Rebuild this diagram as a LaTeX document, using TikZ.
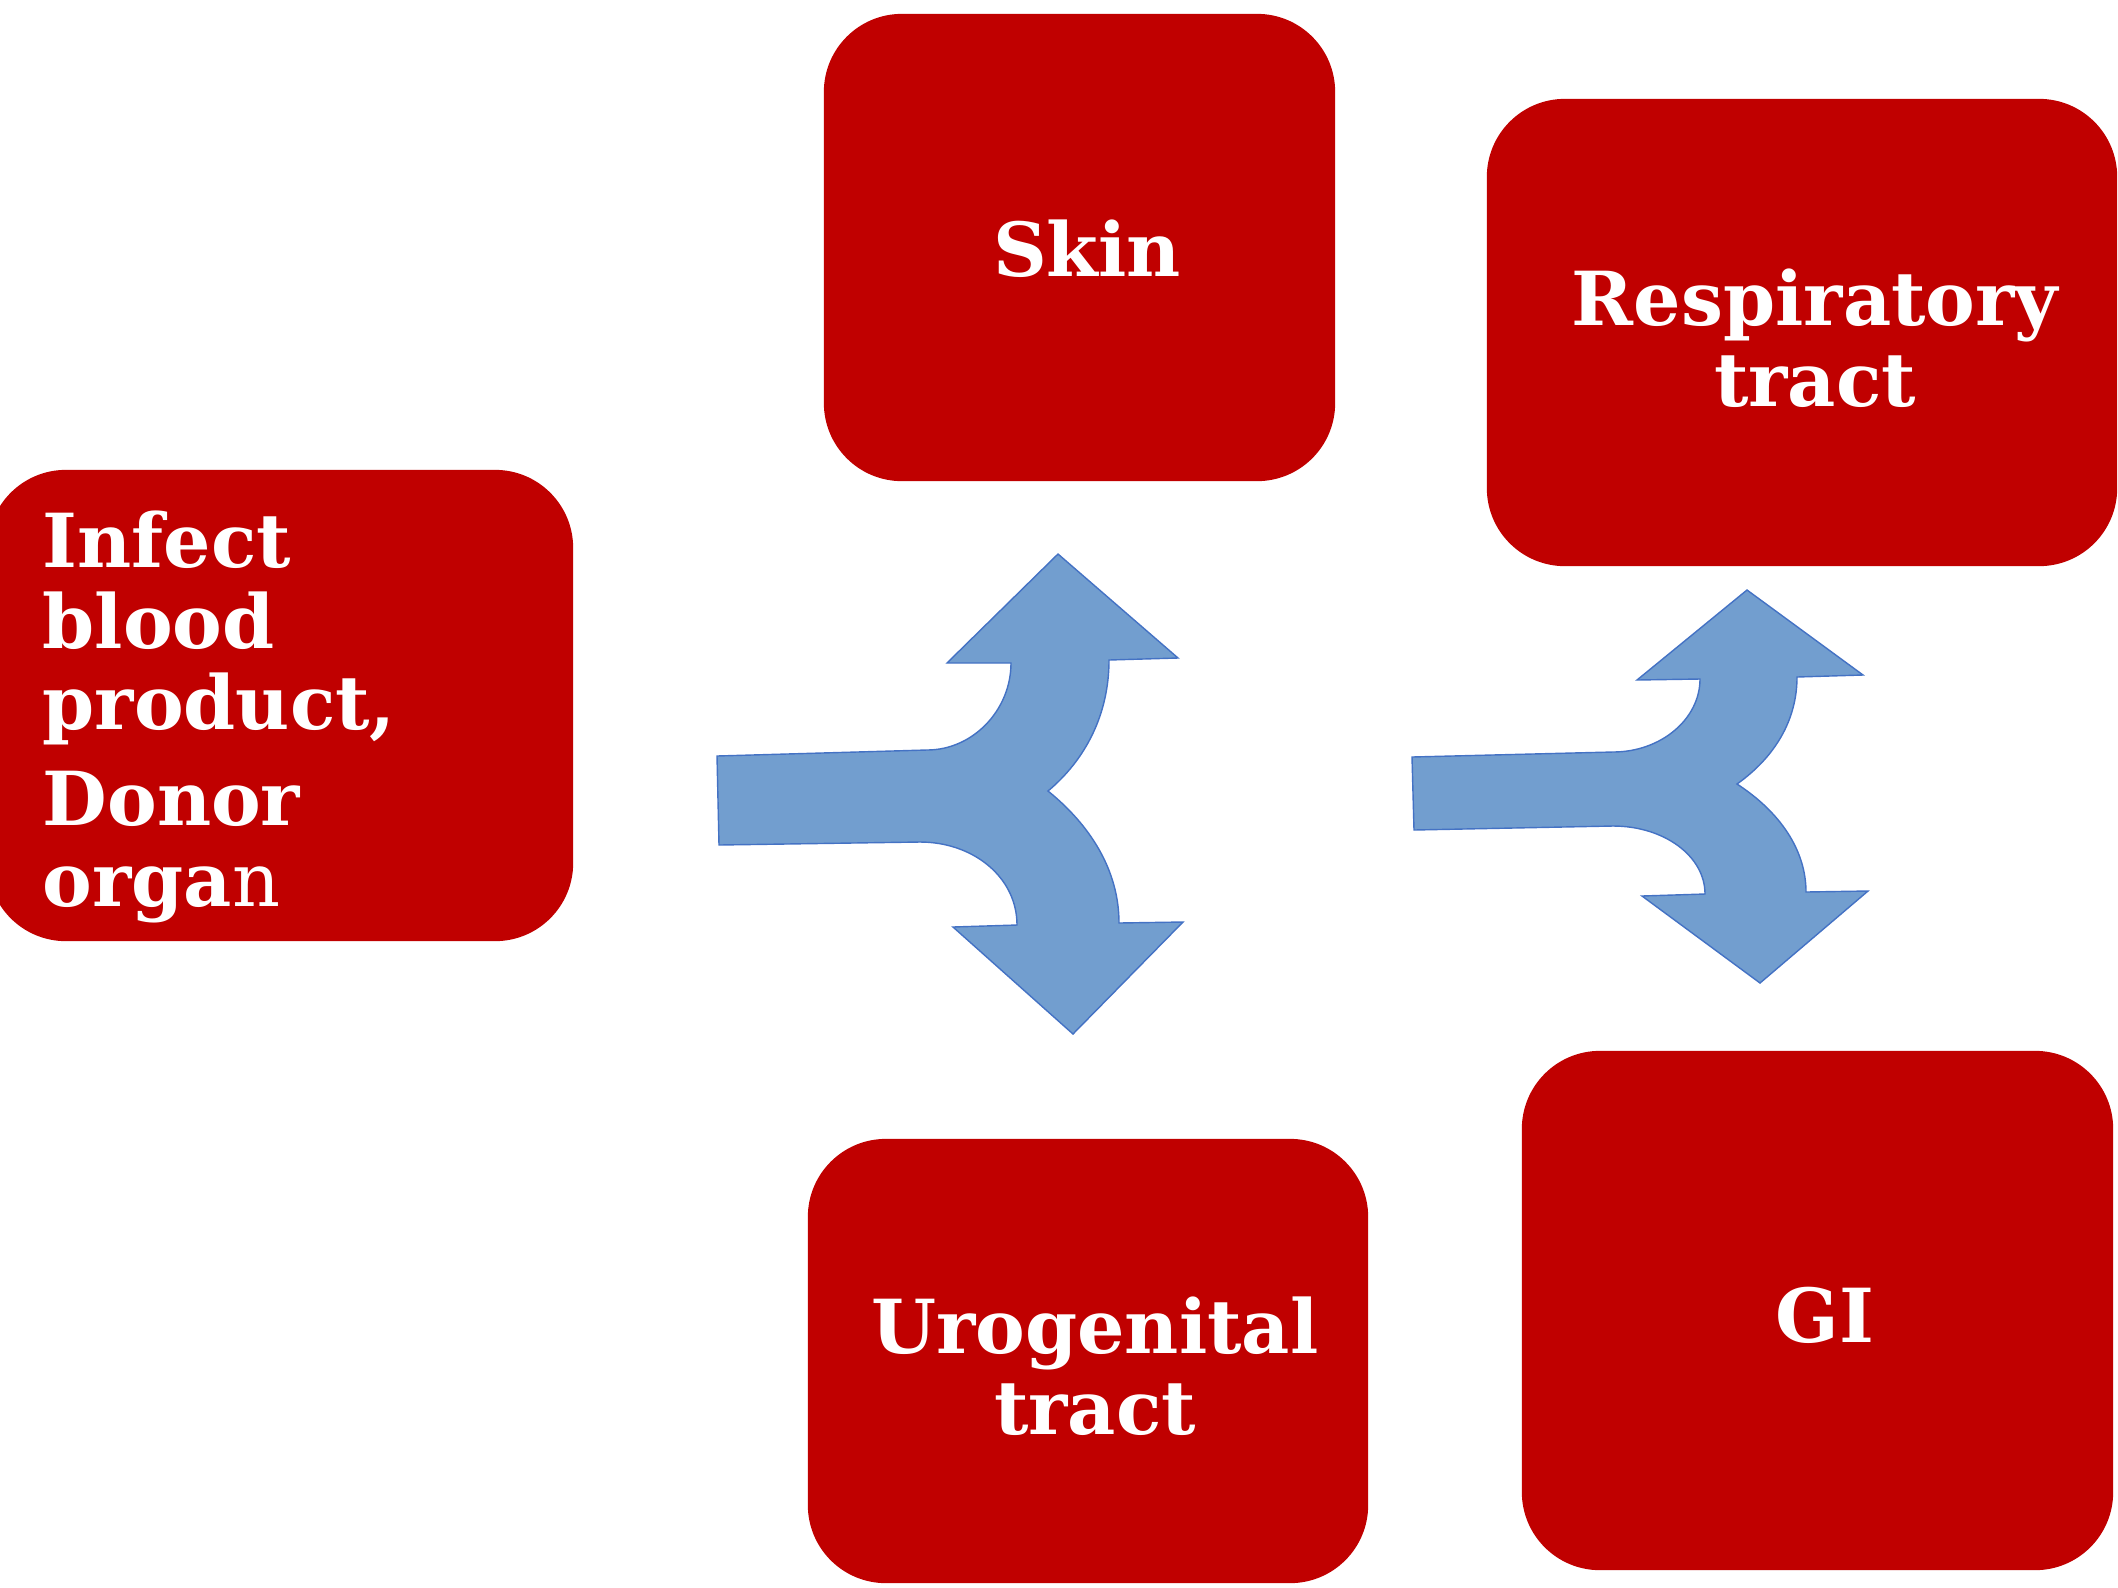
\documentclass[tikz,border=0pt]{standalone}
\usepackage{fontspec}
\setmainfont{DejaVu Serif}
\usetikzlibrary{positioning}

\definecolor{boxred}{RGB}{192,0,0}
\definecolor{arrowblue}{RGB}{114,158,207}
\definecolor{arrowline}{RGB}{68,114,196}

\tikzset{
  redbox/.style={fill=boxred, rounded corners=0.78cm, inner sep=0pt},
  boxtext/.style={text=white, font=\bfseries\fontsize{21.2}{23}\selectfont, align=center, inner sep=0pt},
  splitarrow/.style={fill=arrowblue, draw=arrowline, line width=0.4pt}
}

\begin{document}
\begin{tikzpicture}[x=0.01cm, y=-0.01cm]
    \useasboundingbox (0,0) rectangle (2118,1587);

    % Boxes for the routes of infection
    \node[redbox, minimum width=5.11cm, minimum height=4.67cm] (skin) at (1079.5,247.5) {};
    \node[redbox, minimum width=6.30cm, minimum height=4.67cm] (resp) at (1802,332.5) {};
    \node[redbox, minimum width=5.85cm, minimum height=4.71cm] (blood) at (280.5,705.5) {};
    \node[redbox, minimum width=5.60cm, minimum height=4.44cm] (uro) at (1088,1361) {};
    \node[redbox, minimum width=5.91cm, minimum height=5.19cm] (gi) at (1817.5,1310.5) {};

    % Labels
    \node[boxtext] (skinlabel) at (1087,249) {Skin};
    \node[boxtext] (resplabel) at (1815,338) {Respiratory\\tract};
    \node[boxtext, align=left, anchor=west] (bloodlabel) at (42,717) {Infect\\blood\\product,\\[0.16cm]Donor\\orga{\mdseries n}};
    \node[boxtext] (urolabel) at (1095,1366) {Urogenital\\tract};
    \node[boxtext] (gilabel) at (1825,1315) {GI};

    % Split arrow on the left
    \path[splitarrow] (717,756) -- (927,750)
        .. controls (973,750) and (1011,710) .. (1011,663)
        -- (947,663) -- (1058,554) -- (1178,658) -- (1109,660)
        .. controls (1109,715) and (1085,760) .. (1048,791)
        .. controls (1090,825) and (1119,870) .. (1119,923)
        -- (1183,922) -- (1073,1034) -- (953,927) -- (1017,925)
        .. controls (1017,877) and (973,842) .. (920,842)
        -- (719,845) -- cycle;

    % Split arrow on the right
    \path[splitarrow] (1412,757) -- (1613,752)
        .. controls (1661,752) and (1700,719) .. (1700,679)
        -- (1637,680) -- (1747,590) -- (1863,675) -- (1797,677)
        .. controls (1797,720) and (1775,757) .. (1737,784)
        .. controls (1780,812) and (1806,850) .. (1806,892)
        -- (1868,891) -- (1760,983) -- (1642,896) -- (1705,894)
        .. controls (1705,856) and (1664,826) .. (1613,826)
        -- (1414,830) -- cycle;
\end{tikzpicture}
\end{document}
